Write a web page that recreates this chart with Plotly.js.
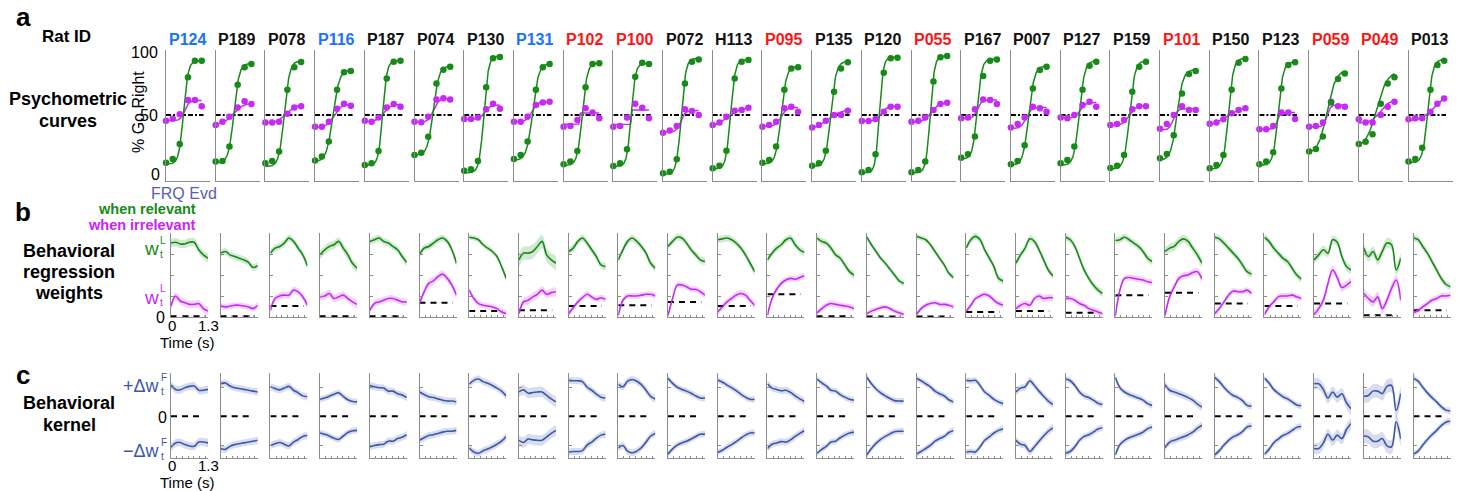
<!DOCTYPE html>
<html><head><meta charset="utf-8">
<script src="https://cdn.plot.ly/plotly-3.0.1.min.js"></script>
<style>html,body{margin:0;padding:0;background:#fff}#chart{width:1459px;height:491px}</style>
</head><body><div id="chart"></div>
<script>
// ---------------- DATA ----------------
const rats = ['P124','P189','P078','P116','P187','P074','P130','P131','P102','P100','P072','H113','P095',
  'P135','P120','P055','P167','P007','P127','P159','P101','P150','P123','P059','P049','P013'];
const ratGroup = ['b','k','k','b','k','k','k','b','r','r','k','k','r','k','k','r','k','k','k','k','r','k','k','r','r','k'];

// Psychometric: % go right at six FRQ evidence levels
const evidence = [-1, -0.62, -0.23, 0.23, 0.62, 1];
const psyRelevant = [
 [12,15,27,80,93,93],[13,13.5,25,74,88,90.5],[11.6,13.5,21,70,88,92],[13.8,17,29,70,84,85],
 [10.3,11.6,21.4,79,92.3,93],[18.3,20,32.8,75,86,88.4],[5.8,7,13.5,72,95,96],[15,18.3,29,70,88,90.5],
 [10.8,13,21.4,72,90.5,91],[9.5,11.6,22.8,80.4,91.5,90.5],[3.7,5,14.8,75,92.3,94],[7.7,9.8,21.7,79,92.3,93.7],
 [12,14.3,25,70,87,88],[9.8,11.6,21.7,68.5,87,91.8],[4.5,6.3,18.8,83.6,95,95.5],[4.5,6.3,13,76.5,95.8,96.8],
 [16,18.8,33,81,93,94],[10.8,13.5,26,71,85.7,88.4],[11.6,14.3,25,70,89,92.3],[8,9.8,18.3,68.5,88.4,92.3],
 [15.6,19,34,67,82.5,85],[7.7,10.3,18.3,70,91.5,94.4],[10.8,13,20.4,71,89.7,91.8],[21,23,33,60,78.6,83],
 [27,28.8,34.7,59,75,80],[13,15,24,70,89.7,93]];
const psyIrrelevant = [
 [45.5,47,50.5,62,62,57],[42,44.7,48.7,56,61,58.7],[44,44,44.7,51,56,57],[40.7,40.7,44.7,55,59,57.4],
 [45.5,44.7,48,56,58.7,56.6],[44.7,44.2,48.7,62.4,63.2,62.4],[46.8,46.8,48,54.5,59,55],[44.7,44.7,48.7,58,60,60.6],
 [40.7,41.3,46,55.3,51.9,47.4],[40.7,41.3,48,59,55.8,47.4],[36,37.6,41.3,54.5,53.2,50],[42,44,48.7,53.4,54,55.8],
 [40.7,42,44.7,55.3,56.6,52.6],[40,42,45.5,50,50,53.4],[45.2,45.2,46.8,52.6,56.6,56.6],[44.7,45.5,48,54,58.7,59.8],
 [47.4,48,54.5,62.4,62,58.7],[40,42.8,48,56.6,55.3,52.6],[48,47.4,50,58,60.6,56.6],[42,42.8,46,54.5,57,57],
 [39,42.8,50,57,54,54],[43,44,46.6,51.3,54,55.3],[38.6,38.6,41.3,51.9,51.9,46.8],[40.7,41.3,44,60.6,57,56.6],
 [46.6,44,44,50,56.6,60.6],[46.6,47.4,47.4,52.6,59,63]];
// logistic fit parameters [lower, upper, midpoint, scale]
const fitRelevant = [
 [11,93,-0.02,0.13],[12,91,0.02,0.15],[9,93,0.06,0.15],[13,86,0,0.18],[10,93,0,0.12],[18,89,0.05,0.16],
 [4,97,0.1,0.13],[14,91,0.05,0.17],[10,91.5,0.05,0.14],[9,91,0,0.12],[3,95,0.02,0.13],[7,94,0,0.13],
 [11,88.5,0.05,0.15],[9,92.5,0.05,0.15],[4,96,-0.02,0.11],[4,97,0.05,0.12],[15,94.5,-0.1,0.13],[10,89,0,0.16],
 [10,93,0.05,0.15],[7,93,0.08,0.15],[14,86,-0.05,0.17],[7,95,0.05,0.14],[10,92,0.05,0.14],[19,86,0,0.25],
 [24,85,0,0.3],[12,94,0.08,0.14]];
const fitIrrelevant = [
 [45.5,61.5,0.05,0.12],[42,60,0,0.3],[43.5,58,0.15,0.25],[40,58.5,0.05,0.2],[44.5,58.5,0.05,0.2],[44,63,0.05,0.15],
 [46.5,58,0.15,0.15],[44.5,60.5,0,0.15],[42.6,51.5,-0.12,0.01],[42.5,54,0,0.01],[36.5,53.5,0,0.12],[40,56,-0.2,0.35],
 [41,56,0.05,0.15],[38,55,-0.1,0.4],[45,57,0.1,0.15],[44,60,0.1,0.22],[47,62,-0.1,0.12],[39,56,-0.15,0.15],
 [47.5,60,0.1,0.15],[41.5,57.5,0.05,0.18],[38,55,-0.25,0.12],[40,58,0,0.5],[38.6,51.9,0,0.08],[40.5,58,0,0.1],
 [43.5,62,0.2,0.25],[45,66,0.4,0.35]];

// Regression weights over time (s)
const timeS = [0,0.1625,0.325,0.4875,0.65,0.8125,0.975,1.1375,1.3];
const wRelevant = [
 [0.88,0.89,0.87,0.87,0.89,0.89,0.80,0.74,0.70],[0.76,0.78,0.74,0.72,0.70,0.68,0.65,0.59,0.61],
 [0.76,0.82,0.84,0.88,0.94,0.90,0.82,0.74,0.61],[0.74,0.80,0.84,0.86,0.90,0.82,0.74,0.64,0.58],
 [0.90,0.92,0.94,0.90,0.88,0.84,0.80,0.72,0.65],[0.74,0.82,0.84,0.88,0.92,0.94,0.90,0.80,0.64],
 [0.95,0.94,0.92,0.86,0.82,0.78,0.72,0.60,0.46],[0.68,0.76,0.76,0.78,0.84,0.90,0.74,0.68,0.64],
 [0.78,0.82,0.90,0.94,0.88,0.80,0.72,0.62,0.60],[0.68,0.80,0.90,0.94,0.90,0.84,0.76,0.64,0.58],
 [0.84,0.90,0.95,0.94,0.88,0.80,0.74,0.68,0.66],[0.92,0.93,0.94,0.92,0.88,0.82,0.74,0.64,0.54],
 [0.68,0.76,0.82,0.86,0.92,0.94,0.86,0.80,0.77],[0.94,0.90,0.88,0.82,0.74,0.70,0.62,0.54,0.50],
 [0.95,0.86,0.78,0.70,0.64,0.57,0.50,0.43,0.40],[0.96,0.94,0.92,0.86,0.78,0.70,0.62,0.52,0.47],
 [0.82,0.92,0.96,0.92,0.80,0.70,0.60,0.46,0.43],[0.64,0.74,0.82,0.93,0.90,0.80,0.68,0.56,0.49],
 [0.95,0.92,0.84,0.70,0.56,0.46,0.38,0.32,0.28],[0.91,0.92,0.95,0.92,0.88,0.84,0.78,0.70,0.66],
 [0.78,0.82,0.84,0.90,0.93,0.90,0.82,0.74,0.64],[0.95,0.93,0.88,0.82,0.76,0.70,0.62,0.54,0.51],
 [0.95,0.90,0.82,0.76,0.70,0.66,0.58,0.50,0.45],[0.68,0.74,0.80,0.76,0.92,0.89,0.72,0.60,0.56],
 [0.82,0.72,0.78,0.68,0.78,0.88,0.86,0.56,0.70],[0.94,0.92,0.84,0.76,0.66,0.56,0.46,0.39,0.36]];
const wIrrelevant = [
 [0.13,0.25,0.19,0.17,0.15,0.15,0.16,0.10,0.07],[0.13,0.12,0.13,0.14,0.14,0.13,0.12,0.10,0.14],
 [0.08,0.22,0.25,0.26,0.26,0.32,0.30,0.24,0.14],[0.24,0.25,0.28,0.22,0.24,0.26,0.22,0.18,0.15],
 [0.08,0.16,0.18,0.20,0.22,0.22,0.20,0.18,0.18],[0.16,0.30,0.40,0.43,0.48,0.51,0.46,0.38,0.26],
 [0.32,0.22,0.16,0.14,0.13,0.12,0.10,0.06,0.04],[0.04,0.18,0.20,0.24,0.27,0.32,0.27,0.29,0.30],
 [0.04,0.11,0.18,0.23,0.27,0.24,0.21,0.23,0.21],[0.02,0.20,0.25,0.25,0.25,0.26,0.27,0.27,0.25],
 [0.02,0.22,0.38,0.38,0.36,0.33,0.33,0.30,0.26],[0.06,0.12,0.18,0.22,0.26,0.28,0.26,0.20,0.14],
 [0.02,0.22,0.33,0.40,0.44,0.46,0.45,0.47,0.49],[0.05,0.10,0.14,0.16,0.15,0.14,0.13,0.12,0.10],
 [0.04,0.07,0.09,0.11,0.12,0.10,0.07,0.05,0.03],[0.03,0.10,0.14,0.16,0.17,0.15,0.15,0.14,0.12],
 [0.07,0.14,0.22,0.25,0.27,0.25,0.20,0.16,0.14],[0.10,0.14,0.16,0.14,0.22,0.25,0.22,0.23,0.23],
 [0.22,0.22,0.20,0.16,0.14,0.10,0.08,0.06,0.04],[0.01,0.32,0.46,0.47,0.46,0.45,0.44,0.42,0.41],
 [0.02,0.24,0.36,0.46,0.49,0.50,0.53,0.54,0.45],[0.04,0.10,0.18,0.26,0.31,0.30,0.30,0.32,0.28],
 [0.03,0.12,0.18,0.24,0.25,0.25,0.26,0.24,0.22],[0.03,0.10,0.20,0.40,0.56,0.47,0.35,0.38,0.42],
 [0.28,0.22,0.18,0.24,0.10,0.20,0.34,0.44,0.20],[0.05,0.08,0.12,0.16,0.20,0.22,0.25,0.25,0.26]];
const wBaseline = [0.01,0.01,0.13,0.01,0.01,0.17,0.07,0.08,0.13,0.14,0.18,0.13,0.27,0.01,0.005,0.005,0.06,0.07,0.05,0.26,0.29,0.16,0.13,0.16,0.02,0.08];
const bandRelevant = [0.05,0.04,0.04,0.05,0.04,0.04,0.03,0.08,0.04,0.04,0.04,0.04,0.04,0.04,0.03,0.03,0.04,0.04,0.04,0.04,0.05,0.04,0.04,0.05,0.06,0.04];
const bandIrrelevant = [0.045,0.035,0.04,0.045,0.04,0.045,0.035,0.05,0.035,0.035,0.035,0.04,0.035,0.035,0.03,0.03,0.035,0.04,0.035,0.035,0.04,0.035,0.035,0.05,0.06,0.035];

// Behavioral kernel (+/- delta w over time)
const kernel = [
 [0.72,0.62,0.61,0.66,0.69,0.70,0.60,0.60,0.62],[0.75,0.77,0.70,0.66,0.64,0.62,0.60,0.58,0.56],
 [0.68,0.64,0.61,0.65,0.69,0.60,0.54,0.47,0.45],[0.39,0.42,0.46,0.51,0.54,0.46,0.38,0.34,0.33],
 [0.71,0.68,0.66,0.65,0.58,0.58,0.52,0.49,0.43],[0.56,0.50,0.45,0.43,0.40,0.37,0.35,0.35,0.33],
 [0.74,0.83,0.86,0.80,0.76,0.71,0.65,0.58,0.47],[0.56,0.61,0.53,0.55,0.56,0.56,0.48,0.40,0.33],
 [0.83,0.82,0.82,0.80,0.67,0.60,0.51,0.44,0.42],[0.74,0.68,0.81,0.85,0.81,0.73,0.60,0.46,0.40],
 [0.88,0.76,0.67,0.62,0.58,0.53,0.47,0.42,0.42],[0.84,0.79,0.72,0.66,0.59,0.51,0.44,0.39,0.39],
 [0.75,0.65,0.62,0.59,0.60,0.55,0.47,0.40,0.34],[0.86,0.77,0.70,0.60,0.58,0.50,0.44,0.39,0.37],
 [0.90,0.75,0.63,0.54,0.47,0.41,0.36,0.35,0.35],[0.88,0.82,0.75,0.68,0.58,0.52,0.47,0.38,0.33],
 [0.83,0.82,0.83,0.71,0.56,0.48,0.39,0.33,0.29],[0.56,0.65,0.68,0.82,0.71,0.58,0.46,0.35,0.27],
 [0.86,0.82,0.71,0.56,0.47,0.43,0.37,0.30,0.27],[0.90,0.66,0.56,0.50,0.46,0.42,0.37,0.29,0.25],
 [0.73,0.60,0.56,0.52,0.48,0.43,0.37,0.28,0.21],[0.90,0.80,0.67,0.56,0.48,0.43,0.36,0.25,0.23],
 [0.88,0.77,0.62,0.53,0.45,0.40,0.33,0.26,0.24],[0.75,0.75,0.62,0.42,0.56,0.44,0.52,0.31,0.17],
 [0.46,0.48,0.58,0.58,0.52,0.69,0.71,0.13,0.53],[0.88,0.81,0.67,0.54,0.43,0.33,0.22,0.14,0.12]];
const bandKernel = [0.09,0.08,0.08,0.07,0.08,0.08,0.08,0.12,0.08,0.08,0.07,0.07,0.08,0.07,0.07,0.07,0.07,0.08,0.07,0.07,0.08,0.07,0.07,0.13,0.16,0.07];

// ---------------- DRAWING ----------------
const W = 1459, H = 491;
const PX = v => v / W, PY = v => 1 - v / H;
const FONT = 'Liberation Sans, Arial, Helvetica, sans-serif';
const GREEN = '#178a17', MAG = '#c62af5', BLUE = '#3d56a8';
const GREEN_BAND = 'rgba(23,138,23,0.2)', MAG_BAND = 'rgba(198,42,245,0.2)', BLUE_BAND = 'rgba(61,86,168,0.2)';
const ratColor = {b:'#1a72ff', r:'#ff1414', k:'#111111'};

const layout = {
  width: W, height: H, margin:{l:0,r:0,t:0,b:0}, showlegend:false,
  paper_bgcolor:'#ffffff', plot_bgcolor:'rgba(0,0,0,0)',
  font:{family:FONT, color:'#000'}, annotations:[]
};
const traces = [];
const axBase = {showgrid:false, zeroline:false, showline:true, linecolor:'#8c8c8c', linewidth:1,
  fixedrange:true, ticks:'', showticklabels:false, tickfont:{size:16, family:FONT, color:'#000'}};

function axName(n, c){ return c + (n === 1 ? '' : n); }
function setAxes(n, x0, x1, y0, y1, xo, yo){
  layout[(n===1?'xaxis':'xaxis'+n)] = Object.assign({}, axBase, {domain:[PX(x0),PX(x1)], anchor:axName(n,'y')}, xo);
  layout[(n===1?'yaxis':'yaxis'+n)] = Object.assign({}, axBase, {domain:[PY(y1),PY(y0)], anchor:axName(n,'x')}, yo);
}
function ann(text, x, y, opt){
  layout.annotations.push(Object.assign({text, x:PX(x), y:PY(y), xref:'paper', yref:'paper',
    showarrow:false, xanchor:'center', yanchor:'middle', borderpad:0,
    font:{family:FONT, size:16, color:'#000'}}, opt||{}));
}
function logistic(p, x){ return p[0] + (p[1]-p[0])/(1+Math.exp(-(x-p[2])/p[3])); }

const fitX = [];
for (let k = 0; k <= 100; k++) fitX.push(evidence[0] + (evidence[evidence.length-1]-evidence[0])*k/100);
const tickT = [0,0.2,0.4,0.6,0.8,1.0,1.2];

rats.forEach((rat, i) => {
  const na = i+1, nb = i+27, nc = i+53;
  const ax0 = 166 + i*49.7, bx0 = 171 + i*49.7;
  // ---- row a: psychometric ----
  setAxes(na, ax0, ax0+44, 50, 181, {range:[-1,1.465]},
    i===0 ? {range:[-2.4,101.6], tickvals:[50,100], showticklabels:true, ticklabelstandoff:4}
          : {range:[-2.4,101.6]});
  const xa = axName(na,'x'), ya = axName(na,'y');
  traces.push({x:[evidence[0],1.1], y:[50,50], xaxis:xa, yaxis:ya, mode:'lines',
    line:{color:'#000', width:2.2, dash:'5px,2px,2px,2px'}, hoverinfo:'skip'});
  traces.push({x:fitX, y:fitX.map(v=>logistic(fitIrrelevant[i],v)), xaxis:xa, yaxis:ya, mode:'lines',
    line:{color:MAG, width:1.5}, hoverinfo:'skip'});
  traces.push({x:fitX, y:fitX.map(v=>logistic(fitRelevant[i],v)), xaxis:xa, yaxis:ya, mode:'lines',
    line:{color:GREEN, width:1.5}, hoverinfo:'skip'});
  traces.push({x:evidence, y:psyIrrelevant[i], xaxis:xa, yaxis:ya, mode:'markers', cliponaxis:false,
    marker:{color:MAG, size:6.5}, hoverinfo:'skip'});
  traces.push({x:evidence, y:psyRelevant[i], xaxis:xa, yaxis:ya, mode:'markers', cliponaxis:false,
    marker:{color:GREEN, size:6.5}, hoverinfo:'skip'});
  ann('<b>'+rat+'</b>', ax0+21, 39, {font:{family:FONT, size:16, color:ratColor[ratGroup[i]]}});

  // ---- row b: regression weights ----
  setAxes(nb, bx0, bx0+37, 233, 317,
    {range:[0,1.3], ticks:'inside', ticklen:2, tickcolor:'#8c8c8c', tickvals:tickT},
    Object.assign({range:[0,1], ticks:'inside', ticklen:3, tickcolor:'#8c8c8c', tickvals:[0,0.25,0.5,0.75]},
      i===0 ? {ticktext:['0','','',''], showticklabels:true, ticklabelstandoff:2} : {}));
  const xb = axName(nb,'x'), yb = axName(nb,'y');
  const band = (vals, w, color, xr, yr) => ({
    x: timeS.concat(timeS.slice().reverse()),
    y: vals.map(v=>v+w).concat(vals.map(v=>v-w).reverse()),
    xaxis:xr, yaxis:yr, mode:'lines', fill:'toself', fillcolor:color, line:{width:0, shape:'spline'}, hoverinfo:'skip'});
  traces.push(band(wRelevant[i], bandRelevant[i], GREEN_BAND, xb, yb));
  traces.push(band(wIrrelevant[i], bandIrrelevant[i], MAG_BAND, xb, yb));
  traces.push({x:[0,1.17], y:[wBaseline[i],wBaseline[i]], xaxis:xb, yaxis:yb, mode:'lines', cliponaxis:false,
    line:{color:'#000', width:2, dash:'6px,5px'}, hoverinfo:'skip'});
  traces.push({x:timeS, y:wRelevant[i], xaxis:xb, yaxis:yb, mode:'lines', line:{color:GREEN, width:1.6, shape:'spline'}, hoverinfo:'skip'});
  traces.push({x:timeS, y:wIrrelevant[i], xaxis:xb, yaxis:yb, mode:'lines', line:{color:MAG, width:1.6, shape:'spline'}, hoverinfo:'skip'});

  // ---- row c: kernel ----
  setAxes(nc, bx0, bx0+37, 373, 458,
    {range:[0,1.3], ticks:'inside', ticklen:2, tickcolor:'#8c8c8c', tickvals:tickT},
    {range:[-0.97,1.0], ticks:'inside', ticklen:3, tickcolor:'#8c8c8c', tickvals:[-0.67,0.67]});
  const xc = axName(nc,'x'), yc = axName(nc,'y');
  const neg = kernel[i].map(v=>-v);
  traces.push(band(kernel[i], bandKernel[i], BLUE_BAND, xc, yc));
  traces.push(band(neg, bandKernel[i], BLUE_BAND, xc, yc));
  traces.push({x:[0,1.15], y:[0,0], xaxis:xc, yaxis:yc, mode:'lines', line:{color:'#000', width:2, dash:'6px,5px'}, hoverinfo:'skip'});
  traces.push({x:timeS, y:kernel[i], xaxis:xc, yaxis:yc, mode:'lines', line:{color:BLUE, width:1.6, shape:'spline'}, hoverinfo:'skip'});
  traces.push({x:timeS, y:neg, xaxis:xc, yaxis:yc, mode:'lines', line:{color:BLUE, width:1.6, shape:'spline'}, hoverinfo:'skip'});
});

// ---- text labels ----
ann('<b>a</b>', 23, 17, {font:{family:FONT,size:26,color:'#000'}});
ann('<b>b</b>', 23, 212, {font:{family:FONT,size:26,color:'#000'}});
ann('<b>c</b>', 23, 375, {font:{family:FONT,size:26,color:'#000'}});
ann('<b>Rat ID</b>', 66, 36, {font:{family:FONT,size:17,color:'#000'}});
ann('<b>Psychometric</b>', 68, 99, {font:{family:FONT,size:18,color:'#000'}});
ann('<b>curves</b>', 68, 121, {font:{family:FONT,size:18,color:'#000'}});
ann('% Go Right', 138, 112, {textangle:-90, font:{family:FONT,size:16,color:'#000'}});
ann('0', 161, 174, {xanchor:'right', font:{family:FONT,size:16,color:'#000'}});
ann('FRQ Evd', 150, 193, {xanchor:'left', font:{family:FONT,size:16,color:'#5a5db5'}});
ann('<b>when relevant</b>', 197, 209.5, {xanchor:'right', font:{family:FONT,size:14.5,color:GREEN}});
ann('<b>when irrelevant</b>', 197, 225, {xanchor:'right', font:{family:FONT,size:14.5,color:'#cc22ff'}});
ann('<b>Behavioral</b>', 69, 251, {font:{family:FONT,size:18,color:'#000'}});
ann('<b>regression</b>', 69, 272, {font:{family:FONT,size:18,color:'#000'}});
ann('<b>weights</b>', 69, 293, {font:{family:FONT,size:18,color:'#000'}});
ann('<b>Behavioral</b>', 69, 403, {font:{family:FONT,size:18,color:'#000'}});
ann('<b>kernel</b>', 69, 425, {font:{family:FONT,size:18,color:'#000'}});
// w_t^L labels
ann('w', 160, 249, {xanchor:'right', font:{family:FONT,size:19,color:GREEN}});
ann('L', 159, 240, {xanchor:'left', font:{family:FONT,size:10,color:GREEN}});
ann('t', 159, 254, {xanchor:'left', font:{family:FONT,size:10,color:GREEN}});
ann('w', 160, 297, {xanchor:'right', font:{family:FONT,size:19,color:MAG}});
ann('L', 159, 288, {xanchor:'left', font:{family:FONT,size:10,color:MAG}});
ann('t', 159, 302, {xanchor:'left', font:{family:FONT,size:10,color:MAG}});
// kernel labels
ann('+Δw', 161, 386, {xanchor:'right', font:{family:FONT,size:18,color:BLUE}});
ann('F', 160, 377, {xanchor:'left', font:{family:FONT,size:10,color:BLUE}});
ann('t', 160, 391, {xanchor:'left', font:{family:FONT,size:10,color:BLUE}});
ann('0', 168, 417, {xanchor:'right', font:{family:FONT,size:16,color:'#000'}});
ann('−Δw', 161, 451, {xanchor:'right', font:{family:FONT,size:18,color:BLUE}});
ann('F', 160, 442, {xanchor:'left', font:{family:FONT,size:10,color:BLUE}});
ann('t', 160, 456, {xanchor:'left', font:{family:FONT,size:10,color:BLUE}});
// time tick labels and titles
ann('0', 171.5, 325, {font:{family:FONT,size:15,color:'#000'}});
ann('1.3', 208, 325, {font:{family:FONT,size:15,color:'#000'}});
ann('Time (s)', 187, 342, {font:{family:FONT,size:15,color:'#000'}});
ann('0', 171.5, 465, {font:{family:FONT,size:15,color:'#000'}});
ann('1.3', 208, 465, {font:{family:FONT,size:15,color:'#000'}});
ann('Time (s)', 187, 482, {font:{family:FONT,size:15,color:'#000'}});

Plotly.newPlot('chart', traces, layout, {staticPlot:true, displayModeBar:false});
</script></body></html>
